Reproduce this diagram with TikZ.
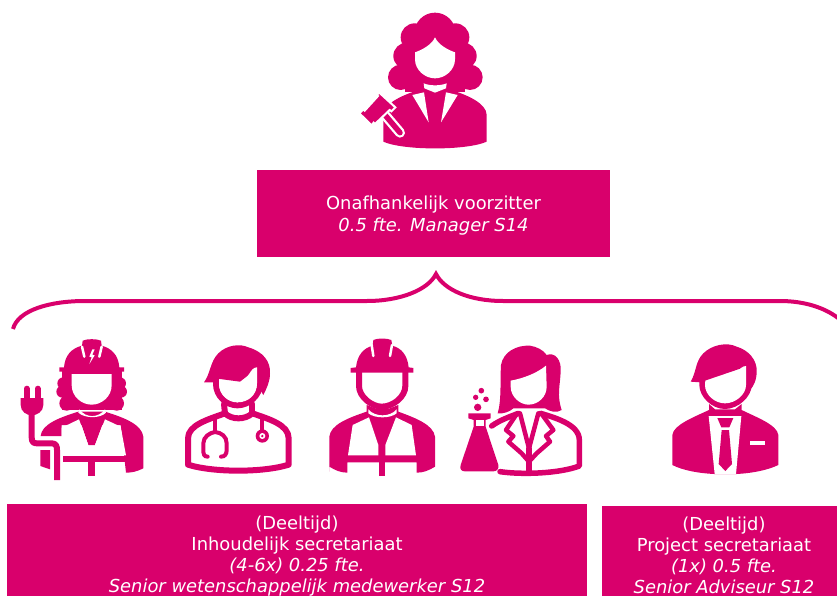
\documentclass[tikz,border=0pt]{standalone}
\usepackage{fontspec}
\setmainfont{DejaVu Sans}
\definecolor{mag}{HTML}{D9006C}
\tikzset{
 x=1pt,y=-1pt,
 pinkbox/.style={fill=mag,text=white,align=center,inner sep=0pt,font=\fontsize{17.9}{21}\selectfont},
 pk/.style={fill=mag,draw=none},
 wh/.style={fill=white,draw=none},
 ln/.style={draw=mag,line width=#1,line cap=round,line join=round},
 wl/.style={draw=white,line width=#1,line cap=round,line join=round},
 icon/.style={shift={(#1)},scale=1/3}
}
\begin{document}
\begin{tikzpicture}
\useasboundingbox (0,0) rectangle (837,596);
\clip (0,0) rectangle (837,596);
% boxes
\node[pinkbox,minimum width=353pt,minimum height=87pt] (top) at (433.5,213.5) {\rule{0pt}{18.6pt}Onafhankelijk voorzitter\\[1pt]\textit{0.5 fte. Manager S14}};
\node[pinkbox,minimum width=580pt,minimum height=104pt] (left) at (297,556) {(Deeltijd)\\Inhoudelijk secretariaat\\\textit{(4-6x) 0.25 fte.}\\\textit{Senior wetenschappelijk medewerker S12}};
\node[pinkbox,minimum width=244pt,minimum height=98pt] (right) at (724,555) {(Deeltijd)\\Project secretariaat\\\textit{(1x) 0.5 fte.}\\\textit{Senior Adviseur S12}};
% brace
\coordinate (bl) at (13,329);\coordinate (bt) at (436,274);\coordinate (br) at (838,318);
\draw[mag,line width=4pt] (bl) .. controls (18,310) and (50,301) .. (85,301) -- (367,301) .. controls (400,301) and (428,290) .. (bt) .. controls (444,290) and (470,301) .. (503,301) -- (780,301) .. controls (805,301) and (825,308) .. (br);
% judge
\begin{scope}[icon={340,0}]
 \foreach \a/\b/\r in {285/100/62,224/112/42,200/168/40,182/232/38,346/112/42,370/168/40,390/232/38} {\fill[pk] (\a,\b) circle (\r);}
 \fill[pk] (195,110) rectangle (375,275);
 \fill[pk] (130,425) -- (130,345) .. controls (130,310) and (190,285) .. (230,272) -- (340,272) .. controls (380,285) and (440,310) .. (440,345) -- (440,425) .. controls (380,452) and (190,452) .. (130,425) -- cycle;
 \fill[wh] (285,112) .. controls (275,135) and (245,150) .. (225,157) -- (225,178) .. controls (225,210) and (255,235) .. (285,235) .. controls (315,235) and (345,210) .. (345,178) -- (345,157) .. controls (325,150) and (295,135) .. (285,112) -- cycle;
 \fill[wh] (251,250) .. controls (270,258) and (300,258) .. (320,250) -- (318,265) -- (285,278) -- (253,265) -- cycle;
 \fill[wh] (217,285) -- (252,277) -- (266,367) -- cycle;
 \fill[wh] (353,285) -- (318,277) -- (303,367) -- cycle;
 % gavel
 \draw[wl=10pt] (135,345) -- (180,398);
 \draw[ln=5.5pt] (135,345) -- (180,398);
 \draw[draw=white,line width=2pt,fill=mag] (118,278) -- (166,322) -- (154,334) -- (149,330) -- (105,372) -- (101,368) -- (95,376) -- (58,340) -- (70,328) -- (74,332) -- (114,288) -- (110,285) -- cycle;
\end{scope}
% electric worker
\begin{scope}[icon={0,330}]
 \foreach \a/\b/\r in {190/160/18,187/185/18,200/220/22,360/160/18,363/185/18,350/220/22} {\fill[pk] (\a,\b) circle (\r);}
 \fill[pk] (185,120) rectangle (365,240);
 \fill[pk] (192,112) .. controls (195,75) and (215,55) .. (246,47) -- (248,32) .. controls (260,26) and (290,26) .. (303,32) -- (305,47) .. controls (335,55) and (355,75) .. (358,112) -- (372,112) -- (372,125) -- (178,125) -- (178,112) -- cycle;
 \draw[wl=2.5pt] (246,50) -- (253,80);\draw[wl=2.5pt] (305,50) -- (298,80);
 \fill[wh] (277,58) -- (268,80) -- (275,82) -- (268,102) -- (284,76) -- (277,74) -- (284,58) -- cycle;
 \fill[wh] (215,132) -- (335,132) -- (335,165) .. controls (335,200) and (305,224) .. (275,224) .. controls (245,224) and (215,200) .. (215,165) -- cycle;
 % shoulders and sleeves
 \fill[pk] (122,318) .. controls (125,285) and (170,265) .. (235,245) -- (315,245) .. controls (380,265) and (425,285) .. (430,320) -- (430,415) .. controls (410,425) and (395,428) .. (378,428) -- (362,285) -- (185,285) -- (185,318) -- cycle;
 \fill[wh] (238,238) .. controls (258,265) and (295,265) .. (315,238) -- (318,248) .. controls (300,266) and (255,266) .. (235,248) -- cycle;
 \fill[pk] (237,262) .. controls (260,266) and (295,266) .. (315,262) -- (285,345) -- (265,345) -- cycle;
 \fill[wh] (185,293) -- (237,268) -- (265,345) -- (265,376) -- (185,376) -- cycle;
 \fill[wh] (315,268) -- (362,290) -- (378,376) -- (285,376) -- (285,345) -- cycle;
 \fill[pk] (190,378) rectangle (378,396);
 \fill[pk] (265,390) rectangle (285,437);
 \fill[pk] (121,360) -- (150,360) -- (150,418) -- (121,408) -- cycle;
 \draw[draw=mag,line width=6pt,line join=round] (95,245) -- (95,322) .. controls (95,338) and (102,340) .. (112,340) -- (155,340) .. controls (168,340) and (171,348) .. (171,360) -- (171,450);
 \draw[ln=6pt] (80,176) -- (80,205);\draw[ln=6pt] (113,176) -- (113,205);
 \fill[pk] (62,204) -- (130,204) -- (130,225) .. controls (130,245) and (110,256) .. (96,256) .. controls (80,256) and (62,245) .. (62,225) -- cycle;
\end{scope}
% doctor
\begin{scope}[icon={0,330}]
 \draw[ln=6pt,fill=white] (564,404) -- (564,325) .. controls (564,285) and (625,268) .. (675,250) .. controls (695,270) and (735,270) .. (757,250) .. controls (810,268) and (866,285) .. (866,325) -- (866,404) .. controls (790,428) and (640,428) .. (564,404) -- cycle;
 \draw[ln=6pt] (672,222) -- (675,250);\draw[ln=6pt] (757,222) -- (757,250);
 \fill[pk] (612,157) .. controls (632,130) and (630,95) .. (655,70) .. controls (680,45) and (720,40) .. (745,52) .. controls (790,65) and (812,95) .. (810,130) .. controls (810,155) and (800,175) .. (790,195) -- (778,175) -- (778,110) -- (720,155) -- (645,145) -- (645,157) -- cycle;
 \draw[draw=mag,line width=6pt] (648,140) -- (648,162) .. controls (648,198) and (680,226) .. (712,226) .. controls (745,226) and (780,198) .. (780,160) -- (780,110);
 \fill[wh] (771,112) .. controls (750,112) and (748,147) .. (720,157) .. controls (690,165) and (668,157) .. (657,147) -- (657,162) .. controls (657,195) and (685,217) .. (712,217) .. controls (745,217) and (771,195) .. (771,160) -- cycle;
 % stethoscope
 \draw[draw=mag,line width=4pt,line cap=round] (623,380) .. controls (612,380) and (610,372) .. (610,360) -- (610,340) .. controls (610,320) and (630,308) .. (645,306) .. controls (665,308) and (680,320) .. (680,340) -- (680,360) .. controls (680,372) and (675,380) .. (663,380);
 \draw[draw=mag,line width=4pt] (645,306) -- (645,262);
 \draw[draw=mag,line width=4pt] (787,305) -- (787,268);
 \fill[pk] (787,318) circle (20);
 \fill[wh] (787,318) circle (9);
 \fill[pk] (787,318) circle (4);
\end{scope}
% builder
\begin{scope}[icon={300,330}]
 \fill[pk] (168,112) .. controls (172,75) and (190,55) .. (218,47) -- (220,30) .. controls (232,24) and (260,24) .. (274,30) -- (277,47) .. controls (305,55) and (322,75) .. (326,112) -- (340,114) -- (340,128) -- (152,128) -- (152,114) -- cycle;
 \draw[wl=2.5pt] (215,45) -- (220,78);\draw[wl=2.5pt] (276,45) -- (270,78);
 \draw[draw=mag,line width=6pt] (177,125) -- (177,168) .. controls (177,200) and (215,230) .. (245,230) .. controls (280,230) and (316,200) .. (316,168) -- (316,125);
 \fill[pk] (88,425) -- (88,320) .. controls (92,285) and (140,265) .. (200,245) -- (200,225) -- (225,235) -- (270,235) -- (295,225) -- (295,245) .. controls (350,265) and (400,285) .. (405,320) -- (405,410) .. controls (385,422) and (370,428) .. (350,428) -- (350,397) -- (142,397) -- (142,428) .. controls (120,428) and (105,420) .. (88,410) -- cycle;
 \fill[wh] (205,238) .. controls (225,262) and (270,262) .. (290,238) -- (290,250) .. controls (270,266) and (225,266) .. (205,250) -- cycle;
 \fill[wh] (158,285) -- (207,262) -- (235,345) -- (235,376) -- (144,376) -- cycle;
 \fill[wh] (288,262) -- (335,285) -- (348,376) -- (256,376) -- (256,345) -- cycle;
 \fill[pk] (236,390) rectangle (256,437);
\end{scope}
% scientist
\begin{scope}[icon={300,330}]
 \fill[pk] (593,250) .. controls (605,210) and (600,150) .. (603,105) .. controls (610,65) and (650,45) .. (690,47) .. controls (710,50) and (730,60) .. (740,75) .. controls (765,65) and (785,90) .. (782,125) .. controls (780,170) and (770,195) .. (785,240) .. controls (770,250) and (750,245) .. (735,235) -- (640,235) .. controls (630,245) and (610,252) .. (593,250) -- cycle;
 \fill[wh] (738,107) .. controls (710,130) and (670,145) .. (632,152) -- (632,170) .. controls (632,200) and (660,224) .. (685,224) .. controls (715,224) and (740,200) .. (740,170) -- cycle;
 % body
 \draw[ln=5.5pt] (575,288) .. controls (600,270) and (630,260) .. (655,250);
 \draw[ln=5.5pt] (722,250) .. controls (760,262) and (838,282) .. (838,330) -- (838,408) .. controls (780,430) and (670,435) .. (600,425);
 \draw[ln=4.5pt] (650,252) -- (618,300) -- (640,318) -- (625,335) -- (665,370) -- (687,395) -- (710,370) -- (750,335) -- (738,318) -- (760,300) -- (725,252);
 \draw[ln=4.5pt] (660,250) -- (687,355) -- (715,250);
 \draw[ln=5.5pt] (687,355) -- (687,425);
 % flask
 \fill[pk] (505,250) -- (572,250) -- (572,265) -- (557,270) -- (557,290) -- (595,405) .. controls (597,418) and (590,424) .. (580,424) -- (495,424) .. controls (485,424) and (478,418) .. (482,405) -- (521,290) -- (521,270) -- (505,265) -- cycle;
 \fill[wh] (527,270) rectangle (551,288);
 \fill[pk] (533,232) circle (11);\fill[pk] (527,202) circle (8);\fill[pk] (558,208) circle (8.5);\fill[pk] (544,182) circle (8.5);
\end{scope}
% manager
\begin{scope}[icon={640,330}]
 \fill[pk] (152,155) .. controls (170,125) and (165,95) .. (190,70) .. controls (215,45) and (260,35) .. (290,50) .. controls (325,60) and (352,90) .. (350,125) .. controls (350,150) and (340,170) .. (330,180) -- (318,170) -- (318,110) -- (180,157) -- cycle;
 \draw[draw=mag,line width=6pt] (187,150) -- (187,165) .. controls (187,195) and (220,228) .. (255,228) .. controls (290,228) and (326,195) .. (326,165) -- (326,110);
 \fill[wh] (318,108) .. controls (295,108) and (290,145) .. (260,152) .. controls (235,158) and (210,158) .. (195,155) -- (195,165) .. controls (195,195) and (225,220) .. (255,220) .. controls (285,220) and (318,195) .. (318,165) -- cycle;
 \fill[pk] (97,405) -- (97,315) .. controls (100,285) and (160,262) .. (207,240) -- (207,222) -- (225,238) -- (285,238) -- (305,222) -- (305,240) .. controls (350,262) and (412,285) .. (415,315) -- (415,405) .. controls (380,422) and (330,430) .. (290,432) -- (222,432) .. controls (180,430) and (130,422) .. (97,405) -- cycle;
 \fill[wh] (206,258) -- (304,258) -- (288,432) -- (224,432) -- cycle;
 \fill[pk] (232,264) -- (280,264) -- (268,292) -- (244,292) -- cycle;
 \fill[pk] (245,300) -- (267,300) -- (276,402) -- (256,423) -- (236,402) -- cycle;
 \fill[wh] (331,333) rectangle (375,345);
\end{scope}
\end{tikzpicture}
\end{document}
